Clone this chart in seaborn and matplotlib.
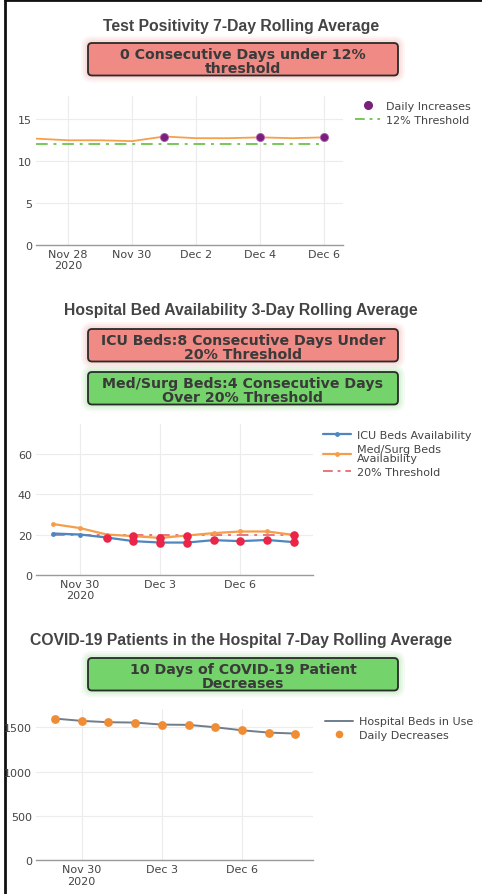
import numpy as np
import pandas as pd
import matplotlib
matplotlib.use("Agg")
import matplotlib.pyplot as plt
from matplotlib.patches import FancyBboxPatch
from matplotlib.lines import Line2D
import seaborn as sns

# ---------------- data ----------------
pos_dates = ["2020-11-27", "2020-11-28", "2020-11-29", "2020-11-30", "2020-12-01",
             "2020-12-02", "2020-12-03", "2020-12-04", "2020-12-05", "2020-12-06"]
pos_values = [12.7, 12.5, 12.5, 12.4, 12.95, 12.75, 12.75, 12.85, 12.75, 12.85]
pos_threshold = 12
pos_xticks = ["2020-11-28", "2020-11-30", "2020-12-02", "2020-12-04", "2020-12-06"]
pos_xlabels = ["Nov 28\n2020", "Nov 30", "Dec 2", "Dec 4", "Dec 6"]
pos_yticks = [0, 5, 10, 15]

bed_dates = ["2020-11-29", "2020-11-30", "2020-12-01", "2020-12-02", "2020-12-03",
             "2020-12-04", "2020-12-05", "2020-12-06", "2020-12-07", "2020-12-08"]
icu_values = [20.5, 20.0, 18.5, 16.7, 16.0, 16.0, 17.2, 16.7, 17.3, 16.2]
medsurg_values = [25.2, 23.2, 20.0, 19.2, 18.3, 19.5, 20.7, 21.5, 21.5, 19.8]
bed_threshold = 20
bed_xticks = ["2020-11-30", "2020-12-03", "2020-12-06"]
bed_xlabels = ["Nov 30\n2020", "Dec 3", "Dec 6"]
bed_yticks = [0, 20, 40, 60]

hosp_values = [1598, 1572, 1557, 1553, 1530, 1527, 1500, 1466, 1440, 1429]
hosp_yticks = [0, 500, 1000, 1500]

titles = ["Test Positivity 7-Day Rolling Average",
          "Hospital Bed Availability 3-Day Rolling Average",
          "COVID-19 Patients in the Hospital 7-Day Rolling Average"]

# ---------------- setup ----------------
sns.set_style("white")
plt.rcParams['font.family'] = ['DejaVu Sans']
W, H = 482, 895
fig = plt.figure(figsize=(W / 100, H / 100), dpi=100)
fig.patch.set_facecolor("white")

ov = fig.add_axes([0, 0, 1, 1])
ov.set_xlim(0, W)
ov.set_ylim(H, 0)
ov.axis("off")
ov.patch.set_alpha(0)

def fax(l, t, r, b):
    return fig.add_axes([l / W, 1 - b / H, (r - l) / W, (b - t) / H])

TXT = "#444444"
RED_BOX = "#f08a84"
GREEN_BOX = "#74d36a"

def box(y0, y1, fc, line1, line2):
    x0, x1 = 88, 398
    for g, a in [(7, 0.07), (5, 0.09), (3, 0.12)]:
        ov.add_patch(FancyBboxPatch((x0 - g, y0 - g), x1 - x0 + 2 * g, y1 - y0 + 2 * g,
                                    boxstyle="round,pad=0,rounding_size=%d" % (4 + g),
                                    fc=fc, ec="none", alpha=a, zorder=1))
    ov.add_patch(FancyBboxPatch((x0, y0), x1 - x0, y1 - y0,
                                boxstyle="round,pad=0,rounding_size=4",
                                fc=fc, ec="#2a2a2a", lw=1.3, zorder=2))
    for txt, yy in [(line1, y0 + 15.3), (line2, y0 + 29.0)]:
        ov.text((x0 + x1) / 2, yy, txt, ha="center", va="baseline", fontsize=10.2,
                fontweight="bold", family="DejaVu Sans", color="#3a3a3a", zorder=3)

def title(y, txt):
    ov.text(241, y, txt, ha="center", va="center", fontsize=11.3, fontweight="bold",
            family="Liberation Sans", color=TXT)

def style(ax, yticks, ylim, xticks, xlabels, xlim):
    ax.set_ylim(*ylim)
    ax.set_yticks(yticks)
    ax.set_xticks(pd.to_datetime(xticks))
    ax.set_xticklabels(xlabels)
    ax.set_xlim(pd.Timestamp(xlim[0]), pd.Timestamp(xlim[1]))
    for s in ["top", "right", "left"]:
        ax.spines[s].set_visible(False)
    ax.spines["bottom"].set_color("#9a9a9a")
    ax.spines["bottom"].set_linewidth(1.0)
    ax.grid(True, color="#ececec", lw=0.8)
    ax.set_axisbelow(True)
    ax.tick_params(length=0, labelsize=8, colors=TXT, pad=3)
    ax.set_xlabel("")
    ax.set_ylabel("")
    ax.patch.set_alpha(0)

def legend(ax, handles, labels, x, y, hl_px=25, spacing=0.3):
    fs_px = 8 * 100 / 72
    leg = ax.legend(handles, labels, loc="upper left",
                    bbox_to_anchor=(x / W, 1 - y / H), bbox_transform=fig.transFigure,
                    frameon=False, borderaxespad=0, borderpad=0, fontsize=8,
                    handlelength=hl_px / fs_px, handletextpad=6 / fs_px,
                    labelspacing=spacing)
    for t in leg.get_texts():
        t.set_color(TXT)
        t.set_linespacing(0.95)
    return leg

# ---------------- chart 1 ----------------
title(26, titles[0])
box(44, 76.5, RED_BOX, "0 Consecutive Days under 12%", "threshold")

df1 = pd.DataFrame({"date": pd.to_datetime(pos_dates), "value": pos_values})
df1["increase"] = df1["value"].diff() > 0
ax1 = fax(36, 97, 343, 245.7)
sns.lineplot(data=df1, x="date", y="value", ax=ax1, color="#f5a04a", lw=1.3)
sns.lineplot(x=df1["date"], y=[pos_threshold] * len(df1), ax=ax1, color="#78c85a",
             lw=1.4, dashes=False, linestyle=(0, (6, 3, 1.5, 3)))
sns.scatterplot(data=df1[df1["increase"]], x="date", y="value", ax=ax1, color="#7a1f7a",
                s=34, edgecolor="#b05fb0", linewidth=0.6, zorder=5)
style(ax1, pos_yticks, (0, 17.8), pos_xticks, pos_xlabels,
      ("2020-11-27 00:00", "2020-12-06 14:00"))
legend(ax1,
       [Line2D([], [], marker="o", color="#7a1f7a", ls="none", ms=5.5),
        Line2D([], [], color="#78c85a", lw=1.4, ls=(0, (5, 2.5, 1.5, 2.5)))],
       ["Daily Increases", "12% Threshold"], 355, 101.5, spacing=0.36)

# ---------------- chart 2 ----------------
title(310.5, titles[1])
box(330, 362.5, RED_BOX, "ICU Beds:8 Consecutive Days Under", "20% Threshold")
box(373, 405.5, GREEN_BOX, "Med/Surg Beds:4 Consecutive Days", "Over 20% Threshold")

df2 = pd.DataFrame({"date": pd.to_datetime(bed_dates), "icu": icu_values,
                    "medsurg": medsurg_values})
ax2 = fax(36, 425, 313.3, 575.7)
BLUE, ORANGE, PINK, RED = "#4f86c0", "#f59d4a", "#e8767c", "#ea2547"
sns.lineplot(x=df2["date"], y=[bed_threshold] * len(df2), ax=ax2, color=PINK, lw=1.4,
             linestyle=(0, (6, 3, 1.5, 3)))
sns.lineplot(data=df2, x="date", y="icu", ax=ax2, color=BLUE, lw=1.6, marker="o",
             markersize=3.5, markeredgewidth=0)
sns.lineplot(data=df2, x="date", y="medsurg", ax=ax2, color=ORANGE, lw=1.6, marker="o",
             markersize=3.5, markeredgewidth=0)
under = pd.concat([df2.loc[df2["icu"] < bed_threshold, ["date", "icu"]].rename(columns={"icu": "v"}),
                   df2.loc[df2["medsurg"] < bed_threshold, ["date", "medsurg"]].rename(columns={"medsurg": "v"})])
sns.scatterplot(data=under, x="date", y="v", ax=ax2, color=RED, s=38, linewidth=0, zorder=5)
style(ax2, bed_yticks, (0, 75), bed_xticks, bed_xlabels,
      ("2020-11-28 08:30", "2020-12-08 17:30"))
legend(ax2,
       [Line2D([], [], color=BLUE, lw=1.6, marker="o", ms=3.5, mew=0),
        Line2D([], [], color=ORANGE, lw=1.6, marker="o", ms=3.5, mew=0),
        Line2D([], [], color=PINK, lw=1.4, ls=(0, (5, 2.5, 1.5, 2.5)))],
       ["ICU Beds Availability", "Med/Surg Beds\nAvailability", "20% Threshold"], 323, 431,
       hl_px=28, spacing=0.34)

# ---------------- chart 3 ----------------
title(640.5, titles[2])
box(659, 691.5, GREEN_BOX, "10 Days of COVID-19 Patient", "Decreases")

df3 = pd.DataFrame({"date": pd.to_datetime(bed_dates), "beds": hosp_values})
ax3 = fax(36, 710, 313.3, 861.3)
sns.lineplot(data=df3, x="date", y="beds", ax=ax3, color="#6f7d8c", lw=1.4)
sns.scatterplot(data=df3, x="date", y="beds", ax=ax3, color="#f08c33", s=40, linewidth=0,
                zorder=5)
style(ax3, hosp_yticks, (0, 1706), bed_xticks, bed_xlabels,
      ("2020-11-28 07:00", "2020-12-08 16:00"))
legend(ax3,
       [Line2D([], [], color="#6f7d8c", lw=1.4),
        Line2D([], [], marker="o", color="#f08c33", ls="none", ms=5.5, mew=0)],
       ["Hospital Beds in Use", "Daily Decreases"], 325, 717.5, hl_px=28, spacing=0.3)

# ---------------- frame ----------------
ov.plot([5.3, 5.3], [0, H], color="#111111", lw=2.0, solid_capstyle="butt", zorder=10)
ov.plot([4, W], [1.3, 1.3], color="#111111", lw=2.0, solid_capstyle="butt", zorder=10)

fig.savefig("out.png", dpi=100)
